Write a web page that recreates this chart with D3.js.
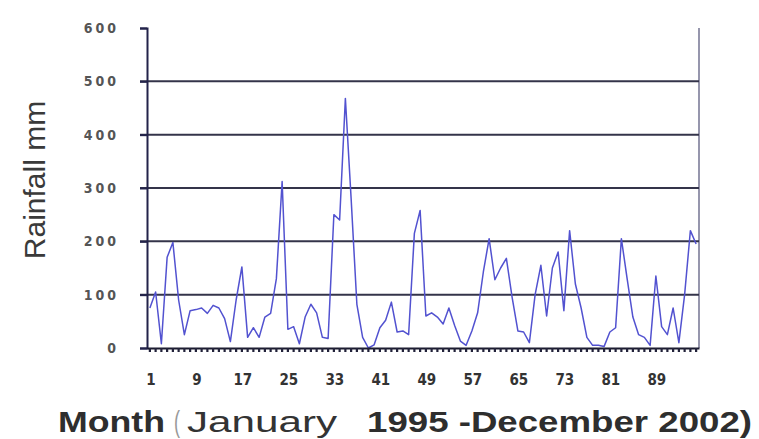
<!DOCTYPE html>
<html>
<head>
<meta charset="utf-8">
<script src="https://cdn.jsdelivr.net/npm/d3@7"></script>
<style>
  html, body { margin: 0; padding: 0; background: #fff; }
  svg { display: block; }
</style>
</head>
<body>
<svg id="chart" width="759" height="439"></svg>
<script>
// Monthly rainfall, January 1995 - December 2002 (96 months)
const months = d3.range(1, 97);
const rainfall = [
  75, 105, 8, 170, 198, 90, 25, 70, 72, 75, 65, 80,
  75, 55, 12, 90, 152, 20, 38, 20, 58, 65, 130, 312,
  35, 40, 8, 58, 82, 66, 20, 18, 250, 240, 468, 280,
  82, 20, 0, 6, 38, 52, 86, 30, 32, 25, 215, 258,
  60, 66, 58, 45, 75, 42, 13, 5, 32, 66, 143, 205,
  128, 150, 168, 95, 32, 30, 10, 100, 155, 60, 150, 180,
  70, 220, 120, 75, 20, 5, 5, 3, 30, 38, 205, 130,
  58, 25, 20, 5, 135, 40, 25, 75, 10, 100, 220, 195
];
const xTickLabels = [1, 9, 17, 25, 33, 41, 49, 57, 65, 73, 81, 89];
const yTicks = [0, 100, 200, 300, 400, 500, 600];
const gridValues = [100, 200, 300, 400, 500];

const svg = d3.select("#chart");
const plot = { left: 147, right: 699, top: 28, bottom: 348 };

const x = d3.scaleBand().domain(months).range([plot.left, plot.right]).paddingInner(0).paddingOuter(0);
const y = d3.scaleLinear().domain([0, 600]).range([plot.bottom, plot.top]);

// right frame edge
svg.append("line")
  .attr("x1", plot.right).attr("x2", plot.right)
  .attr("y1", plot.top).attr("y2", plot.bottom)
  .attr("stroke", "#6a6a8a").attr("stroke-width", 1.4);

// horizontal gridlines
svg.append("g")
  .selectAll("line")
  .data(gridValues)
  .join("line")
  .attr("x1", plot.left - 7).attr("x2", plot.right)
  .attr("y1", d => y(d)).attr("y2", d => y(d))
  .attr("stroke", "#34344a").attr("stroke-width", 2);

// rainfall series
const line = d3.line()
  .x(d => x(d.m) + x.bandwidth() / 2)
  .y(d => y(d.v));
svg.append("path")
  .datum(months.map((m, i) => ({ m, v: rainfall[i] })))
  .attr("fill", "none")
  .attr("stroke", "#5252d0")
  .attr("stroke-width", 1.5)
  .attr("stroke-linejoin", "round")
  .attr("d", line);

// y axis
const yAxis = d3.axisLeft(y)
  .tickValues(yTicks)
  .tickSize(7)
  .tickPadding(21)
  .tickFormat(d3.format("d"));
const gy = svg.append("g")
  .attr("transform", `translate(${plot.left},0)`)
  .call(yAxis);
gy.select(".domain").attr("stroke", "#23234a").attr("stroke-width", 2);
gy.selectAll(".tick line").attr("stroke", "#23234a").attr("stroke-width", 2);
gy.selectAll(".tick text")
  .attr("fill", "#555")
  .style("font-family", "'Liberation Sans Narrow', 'DejaVu Sans Condensed', sans-serif")
  .style("font-size", "14px")
  .style("font-weight", "bold")
  .style("letter-spacing", "3px");

// x axis with a tick mark at every month
const xAxis = d3.axisBottom(x)
  .tickValues(months)
  .tickSize(4)
  .tickSizeOuter(0)
  .tickFormat("");
const gx = svg.append("g")
  .attr("transform", `translate(0,${plot.bottom})`)
  .call(xAxis);
gx.select(".domain").attr("stroke", "#1b1b2e").attr("stroke-width", 2.2);
gx.selectAll(".tick line")
  .attr("stroke", "#22223a").attr("stroke-width", 2.2);

// month labels every 8 months
svg.append("g")
  .selectAll("text")
  .data(xTickLabels)
  .join("text")
  .attr("x", d => x(d) + x.bandwidth() / 2 + 1)
  .attr("y", 385)
  .attr("text-anchor", "middle")
  .attr("fill", "#333")
  .style("font-family", "'Liberation Sans Narrow', 'DejaVu Sans Condensed', sans-serif")
  .style("font-size", "15px")
  .style("font-weight", "bold")
  .text(d => d);

// y axis title
svg.append("text")
  .attr("transform", "translate(45,180) rotate(-90)")
  .attr("text-anchor", "middle")
  .attr("fill", "#3a3a3a")
  .style("font-family", "'Liberation Sans', Arial, sans-serif")
  .style("font-size", "30px")
  .text("Rainfall mm");

// x axis title
const titleFont = "'Liberation Sans', Arial, sans-serif";
const titleParts = [
  { t: "Month", x: 58, w: 107, bold: true, fill: "#2e2e2e" },
  { t: "(", x: 174, w: 6, bold: false, fill: "#999" },
  { t: "January", x: 187, w: 150, bold: false, fill: "#333" },
  { t: "1995 -December 2002)", x: 367, w: 385, bold: true, fill: "#2e2e2e" }
];
svg.append("g")
  .selectAll("text")
  .data(titleParts)
  .join("text")
  .attr("x", d => d.x)
  .attr("y", 432)
  .attr("textLength", d => d.w)
  .attr("lengthAdjust", "spacingAndGlyphs")
  .attr("fill", d => d.fill)
  .style("font-family", titleFont)
  .style("font-size", "29px")
  .style("font-weight", d => d.bold ? "bold" : "normal")
  .text(d => d.t);
</script>
</body>
</html>
